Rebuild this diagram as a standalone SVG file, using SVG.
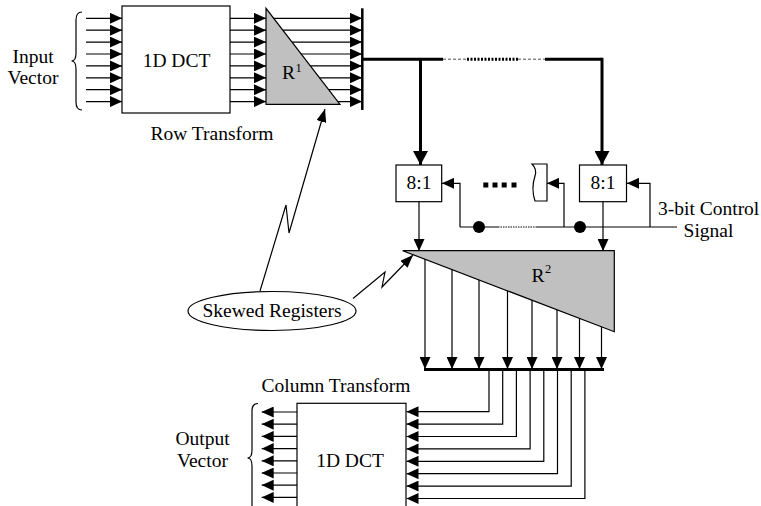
<svg xmlns="http://www.w3.org/2000/svg" width="761" height="506" viewBox="0 0 761 506">
<style>
text{font-family:"Liberation Serif","Times New Roman",serif;font-size:19.5px;fill:#000}
.box{fill:#fff;stroke:#000;stroke-width:1.2}
.tri{fill:#c0c0c0;stroke:#000;stroke-width:1.2}
.ln{fill:none;stroke:#000;stroke-width:1.2}
.bold{fill:none;stroke:#000;stroke-width:3}
.sup{font-size:12.5px}
</style>
<defs>
<marker id="ah" viewBox="0 0 12 11" refX="12" refY="5.5" markerWidth="12" markerHeight="11" markerUnits="userSpaceOnUse" orient="auto">
<path d="M0,0 L12,5.5 L0,11 Z" fill="#000"/>
</marker>
<marker id="ahb" viewBox="0 0 14 15" refX="14" refY="7.5" markerWidth="14" markerHeight="15" markerUnits="userSpaceOnUse" orient="auto">
<path d="M0,0 L14,7.5 L0,15 Z" fill="#000"/>
</marker>
<marker id="ahs" viewBox="0 0 13 10" refX="13" refY="5" markerWidth="13" markerHeight="10" markerUnits="userSpaceOnUse" orient="auto">
<path d="M0,0 L13,5 L0,10 Z" fill="#000"/>
</marker>
</defs>

<g id="connectors">
<!-- input lines -->
<g class="ln" marker-end="url(#ah)">
<path d="M86,18.3 H122"/><path d="M86,30.2 H122"/><path d="M86,42.1 H122"/><path d="M86,54 H122"/>
<path d="M86,65.9 H122"/><path d="M86,77.8 H122"/><path d="M86,89.7 H122"/><path d="M86,101.6 H122"/>
</g>
<!-- dct to R1 -->
<g class="ln" marker-end="url(#ah)">
<path d="M230,18.3 H266"/><path d="M230,30.2 H266"/><path d="M230,42.1 H266"/><path d="M230,54 H266"/>
<path d="M230,65.9 H266"/><path d="M230,77.8 H266"/><path d="M230,89.7 H266"/><path d="M230,101.6 H266"/>
</g>
<!-- R1 to bar -->
<g class="ln" marker-end="url(#ah)">
<path d="M266,18.3 H362"/><path d="M266,30.2 H362"/><path d="M266,42.1 H362"/><path d="M266,54 H362"/>
<path d="M266,65.9 H362"/><path d="M266,77.8 H362"/><path d="M266,89.7 H362"/><path d="M266,101.6 H362"/>
</g>
<!-- bold bus to muxes -->
<path class="bold" d="M362,59.3 H443"/>
<path d="M443,59.3 H467" stroke="#888" stroke-width="1.5" stroke-dasharray="3,2" fill="none"/>
<path d="M467,59.3 H518" stroke="#000" stroke-width="3" stroke-dasharray="2,1.5" fill="none"/>
<path d="M518,59.3 H545" stroke="#888" stroke-width="1.5" stroke-dasharray="3,2" fill="none"/>
<path class="bold" d="M545,59.3 H602"/>
<path class="bold" d="M420.5,59.3 V165" marker-end="url(#ahb)"/>
<path class="bold" d="M602,57.8 V165" marker-end="url(#ahb)"/>
<!-- control lines -->
<path class="ln" d="M460,227 H498"/>
<path d="M498,227 H537" stroke="#000" stroke-width="1" stroke-dasharray="1.5,1" fill="none"/>
<path class="ln" d="M537,227 H677"/>
<path class="ln" d="M460,227 V183.3 H442" marker-end="url(#ah)"/>
<path class="ln" d="M564,227 V183.3 H547" marker-end="url(#ah)"/>
<path class="ln" d="M650,227 V183.3 H627" marker-end="url(#ah)"/>
<circle cx="479" cy="227" r="6" fill="#000"/>
<circle cx="580" cy="227" r="6" fill="#000"/>
<!-- mux outputs -->
<path class="ln" d="M419,202 V251" marker-end="url(#ah)"/>
<path class="ln" d="M603,202 V251" marker-end="url(#ah)"/>
<!-- R2 outputs -->
<g class="ln" marker-end="url(#ah)">
<path d="M425,251 V369"/><path d="M452,251 V369"/><path d="M479,251 V369"/><path d="M507.5,251 V369"/>
<path d="M532,251 V369"/><path d="M557,251 V369"/><path d="M579.5,251 V369"/><path d="M601.5,251 V369"/>
</g>
<!-- bus to column DCT -->
<g class="ln" marker-end="url(#ah)">
<path d="M489,369 V411.7 H406.5"/>
<path d="M502.7,369 V424.1 H406.5"/>
<path d="M516.4,369 V436.5 H406.5"/>
<path d="M530.1,369 V448.9 H406.5"/>
<path d="M543.8,369 V461.3 H406.5"/>
<path d="M557.5,369 V473.7 H406.5"/>
<path d="M571.2,369 V486.1 H406.5"/>
<path d="M584.9,369 V498.5 H406.5"/>
</g>
<!-- outputs -->
<g class="ln" marker-end="url(#ah)">
<path d="M297,412 H261.7"/><path d="M297,424.2 H261.7"/><path d="M297,436.4 H261.7"/><path d="M297,448.6 H261.7"/>
<path d="M297,460.8 H261.7"/><path d="M297,473 H261.7"/><path d="M297,485.2 H261.7"/><path d="M297,497.4 H261.7"/>
</g>
<!-- skewed register pointers -->
<path class="ln" d="M260,291 L286,205 L289,233 L325,109" marker-end="url(#ahs)"/>
<path class="ln" d="M353,298.5 L385,272 L382,287 L413,255" marker-end="url(#ahs)"/>
</g>

<g id="input-vector">
<path class="ln" d="M82,12 Q76,12 76,20 L76,53 Q76,61 71.5,61 Q76,61 76,69 L76,102 Q76,110 82,110"/>
<text x="33" y="63" text-anchor="middle">Input</text>
<text x="33" y="84" text-anchor="middle">Vector</text>
</g>

<g id="row-dct">
<rect class="box" x="122" y="6" width="108" height="107"/>
<text x="176.5" y="66.7" text-anchor="middle">1D DCT</text>
<text x="212" y="140" text-anchor="middle">Row Transform</text>
</g>

<g id="r1">
<path class="tri" d="M266,8.3 L266,104.3 L340,104.3 Z"/>
<text x="282" y="79">R</text>
<text class="sup" x="295.5" y="71.5">1</text>
</g>

<g id="bar">
<path d="M362.3,8.3 V110" stroke="#000" stroke-width="2.5"/>
</g>

<g id="mux-left">
<rect class="box" x="396" y="165" width="45.7" height="36.7"/>
<text x="419" y="188.5" text-anchor="middle">8:1</text>
</g>

<g id="mux-partial">
<path class="box" d="M532,164 L547,164 L547,201 L535,201 C532,192 533,182 535,176 C537,170 534,166 532,164 Z"/>
<g fill="#000">
<rect x="483.3" y="182.5" width="5" height="5"/>
<rect x="492.5" y="182.5" width="5" height="5"/>
<rect x="501.7" y="182.5" width="5" height="5"/>
<rect x="511.5" y="182.5" width="5" height="5"/>
</g>
</g>

<g id="mux-right">
<rect class="box" x="579.5" y="165" width="47" height="36.7"/>
<text x="603" y="188.5" text-anchor="middle">8:1</text>
</g>

<g id="control-signal">
<text x="658" y="215">3-bit Control</text>
<text x="708.5" y="237" text-anchor="middle">Signal</text>
</g>

<g id="r2">
<path class="tri" d="M402.7,250.7 L614.3,250.7 L614.3,331.7 Z"/>
<text x="531.5" y="281.7">R</text>
<text class="sup" x="545" y="273">2</text>
</g>

<g id="bus">
<path d="M424,369.5 H604" stroke="#000" stroke-width="3"/>
</g>

<g id="skewed-registers">
<ellipse cx="272" cy="311" rx="84" ry="19.5" fill="#fff" stroke="#000" stroke-width="1.2"/>
<text x="272" y="317" text-anchor="middle">Skewed Registers</text>
</g>

<g id="column-dct">
<rect class="box" x="297" y="403.3" width="109" height="112"/>
<text x="350" y="466.7" text-anchor="middle">1D DCT</text>
<text x="336" y="391.7" text-anchor="middle">Column Transform</text>
</g>

<g id="output-vector">
<path class="ln" d="M258,403.5 Q252,403.5 252,411 L252,450 Q252,458 247.5,458 Q252,458 252,466 L252,505 Q252,512 258,512"/>
<text x="202.5" y="445" text-anchor="middle">Output</text>
<text x="202.5" y="466.7" text-anchor="middle">Vector</text>
</g>
</svg>
